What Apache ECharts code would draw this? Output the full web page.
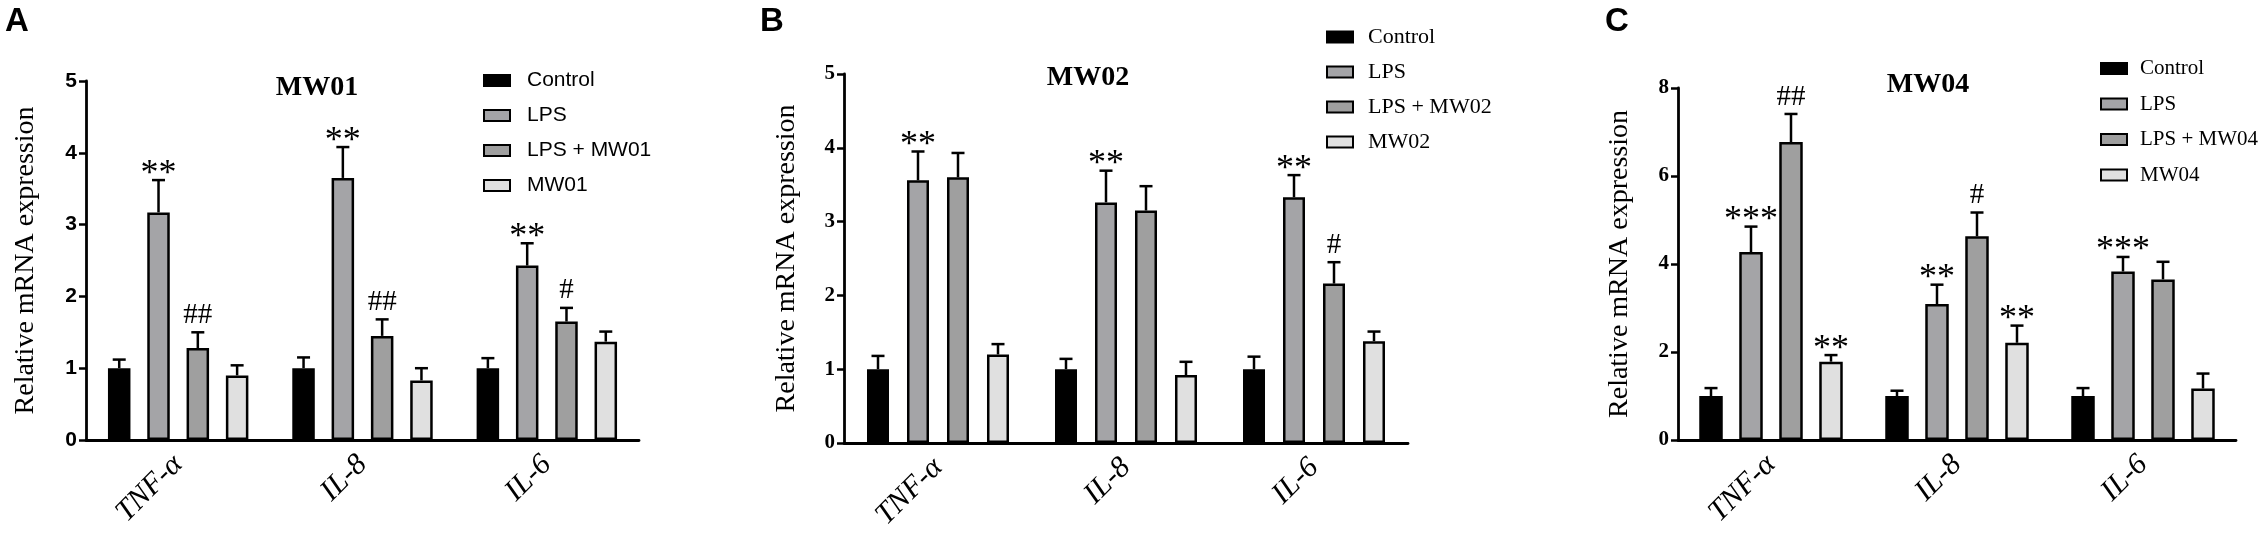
<!DOCTYPE html>
<html>
<head>
<meta charset="utf-8">
<script src="https://cdn.jsdelivr.net/npm/echarts@6/dist/echarts.min.js"></script>
<style>
  html, body { margin: 0; padding: 0; background: #fff; }
  #chart { width: 2266px; height: 535px; }
</style>
</head>
<body>
<div id="chart"></div>
<script>
// genes on the x axis, shared by all three panels
const categories = ['TNF-α', 'IL-8', 'IL-6']

// panel A - MW01   (rows: group, columns: gene)
const mw01Groups = ['Control', 'LPS', 'LPS + MW01', 'MW01']
const mw01Mean = [[1.0, 1.0, 1.0], [3.17, 3.65, 2.43], [1.28, 1.45, 1.65], [0.90, 0.83, 1.37]]
const mw01Sem = [[0.12, 0.15, 0.14], [0.45, 0.43, 0.31], [0.22, 0.23, 0.19], [0.14, 0.17, 0.14]]
const mw01Marks = [['', '', ''], ['**', '**', '**'], ['##', '##', '#'], ['', '', '']]
const mw01Ticks = [0, 1, 2, 3, 4, 5]

// panel B - MW02
const mw02Groups = ['Control', 'LPS', 'LPS + MW02', 'MW02']
const mw02Mean = [[1.0, 1.0, 1.0], [3.56, 3.26, 3.33], [3.60, 3.15, 2.16], [1.20, 0.92, 1.38]]
const mw02Sem = [[0.18, 0.14, 0.17], [0.39, 0.43, 0.30], [0.33, 0.33, 0.29], [0.14, 0.18, 0.13]]
const mw02Marks = [['', '', ''], ['**', '**', '**'], ['', '', '#'], ['', '', '']]
const mw02Ticks = [0, 1, 2, 3, 4, 5]

// panel C - MW04
const mw04Groups = ['Control', 'LPS', 'LPS + MW04', 'MW04']
const mw04Mean = [[1.0, 1.0, 1.0], [4.27, 3.09, 3.83], [6.77, 4.63, 3.65], [1.78, 2.21, 1.17]]
const mw04Sem = [[0.18, 0.12, 0.18], [0.58, 0.44, 0.33], [0.64, 0.54, 0.40], [0.15, 0.39, 0.34]]
const mw04Marks = [['', '', ''], ['***', '**', '***'], ['##', '#', ''], ['**', '**', '']]
const mw04Ticks = [0, 2, 4, 6, 8]

const SERIF = "'Liberation Serif', 'Times New Roman', serif"
const SANS = "'Liberation Sans', Arial, sans-serif"
const groupColors = ['#000000', '#a4a4a7', '#9f9f9f', '#e0e0e0']

const panels = [
  {
    letter: 'A', title: 'MW01', groups: mw01Groups, mean: mw01Mean, sem: mw01Sem, marks: mw01Marks, ticks: mw01Ticks,
    grid: { left: 86, top: 81, width: 553, height: 359 },
    barWidth: 22.5, pitch: 39.3,
    tickFont: SANS, legendFont: SANS, legendSize: 21,
    legendPos: { left: 478, top: 65 }, legendGap: 14, legendPad: 12,
    titlePos: [312, 69], letterPos: [5, 5], nameGap: 46
  },
  {
    letter: 'B', title: 'MW02', groups: mw02Groups, mean: mw02Mean, sem: mw02Sem, marks: mw02Marks, ticks: mw02Ticks,
    grid: { left: 844, top: 74, width: 564, height: 369 },
    barWidth: 22, pitch: 40,
    tickFont: SERIF, legendFont: SERIF, legendSize: 22,
    legendPos: { left: 1321, top: 21 }, legendGap: 13, legendPad: 10,
    titlePos: [1083, 59], letterPos: [760, 5], nameGap: 43
  },
  {
    letter: 'C', title: 'MW04', groups: mw04Groups, mean: mw04Mean, sem: mw04Sem, marks: mw04Marks, ticks: mw04Ticks,
    grid: { left: 1678, top: 88, width: 558, height: 352 },
    barWidth: 23.5, pitch: 40,
    tickFont: SERIF, legendFont: SERIF, legendSize: 21,
    legendPos: { left: 2095, top: 53 }, legendGap: 14.5, legendPad: 8,
    titlePos: [1923, 66], letterPos: [1605, 5], nameGap: 44
  }
]

const chart = echarts.init(document.getElementById('chart'))

const grid = []
const xAxis = []
const yAxis = []
const legend = []
const title = []
const graphic = []
const series = []

panels.forEach((p, pi) => {
  grid.push(Object.assign({ containLabel: false }, p.grid))

  xAxis.push({
    type: 'category',
    gridIndex: pi,
    data: categories,
    axisLine: { lineStyle: { color: '#000', width: 2.8 } },
    axisTick: { alignWithLabel: true, length: 8, lineStyle: { color: '#000', width: 2.5 } },
    axisLabel: {
      rotate: 45,
      margin: 20,
      fontFamily: SERIF,
      fontStyle: 'italic',
      fontSize: 30,
      color: '#000'
    }
  })

  const step = p.ticks[1] - p.ticks[0]
  yAxis.push({
    type: 'value',
    gridIndex: pi,
    min: p.ticks[0],
    max: p.ticks[p.ticks.length - 1],
    interval: step,
    name: 'Relative mRNA expression',
    nameLocation: 'middle',
    nameGap: p.nameGap,
    nameTextStyle: { fontFamily: SERIF, fontSize: 28, color: '#000' },
    splitLine: { show: false },
    axisLine: { show: true, lineStyle: { color: '#000', width: 2.8 } },
    axisTick: { show: true, length: 7, lineStyle: { color: '#000', width: 2.5 } },
    axisLabel: { margin: 9, fontFamily: p.tickFont, fontWeight: 'bold', fontSize: 21, color: '#000' }
  })

  legend.push({
    orient: 'vertical',
    left: p.legendPos.left,
    top: p.legendPos.top,
    itemWidth: 26,
    itemHeight: 11,
    itemGap: p.legendGap,
    icon: 'rect',
    selectedMode: false,
    data: p.groups,
    textStyle: {
      fontFamily: p.legendFont,
      fontSize: p.legendSize,
      color: '#000',
      padding: [0, 0, 0, p.legendPad]
    }
  })

  title.push({
    text: p.title,
    left: p.titlePos[0],
    top: p.titlePos[1],
    textAlign: 'center',
    textStyle: { fontFamily: SERIF, fontWeight: 'bold', fontSize: 28, color: '#000' }
  })

  graphic.push({
    type: 'text',
    left: p.letterPos[0],
    top: p.letterPos[1],
    style: { text: p.letter, font: "bold 33px 'Liberation Sans', Arial, sans-serif", fill: '#000' }
  })

  const gapPct = ((p.pitch - p.barWidth) / p.barWidth * 100).toFixed(1) + '%'
  p.groups.forEach((g, gi) => {
    series.push({
      type: 'bar',
      name: g,
      xAxisIndex: pi,
      yAxisIndex: pi,
      barWidth: p.barWidth,
      barGap: gapPct,
      data: p.mean[gi],
      itemStyle: { color: groupColors[gi], borderColor: '#000', borderWidth: 2.5 },
      emphasis: { disabled: true },
      animation: false
    })
  })

  // error bars (upper half only) and significance marks
  const errData = []
  p.groups.forEach((g, gi) => {
    categories.forEach((c, ci) => {
      errData.push([ci, gi, p.mean[gi][ci], p.sem[gi][ci]])
    })
  })
  series.push({
    type: 'custom',
    xAxisIndex: pi,
    yAxisIndex: pi,
    clip: false,
    z: 5,
    animation: false,
    silent: true,
    encode: { x: 0, y: 2 },
    data: errData,
    renderItem: (params, api) => {
      const ci = api.value(0)
      const gi = api.value(1)
      const mean = api.value(2)
      const sem = api.value(3)
      const base = api.coord([ci, mean])
      const top = api.coord([ci, mean + sem])
      const x = base[0] + (gi - 1.5) * p.pitch
      const children = [
        { type: 'line', shape: { x1: x, y1: base[1], x2: x, y2: top[1] }, style: { stroke: '#000', lineWidth: 2.5 } },
        { type: 'line', shape: { x1: x - 6.5, y1: top[1], x2: x + 6.5, y2: top[1] }, style: { stroke: '#000', lineWidth: 2.5 } }
      ]
      const mark = p.marks[gi][ci]
      if (mark) {
        const isHash = mark[0] === '#'
        children.push({
          type: 'text',
          x: x,
          y: isHash ? top[1] - 17 : top[1] - 6,
          style: {
            text: mark,
            fill: '#000',
            font: (isHash ? '29px ' : '36px ') + SERIF,
            align: 'center',
            verticalAlign: 'middle'
          }
        })
      }
      return { type: 'group', children }
    }
  })
})

chart.setOption({
  backgroundColor: '#fff',
  animation: false,
  grid,
  xAxis,
  yAxis,
  legend,
  title,
  graphic,
  series
})
</script>
</body>
</html>
